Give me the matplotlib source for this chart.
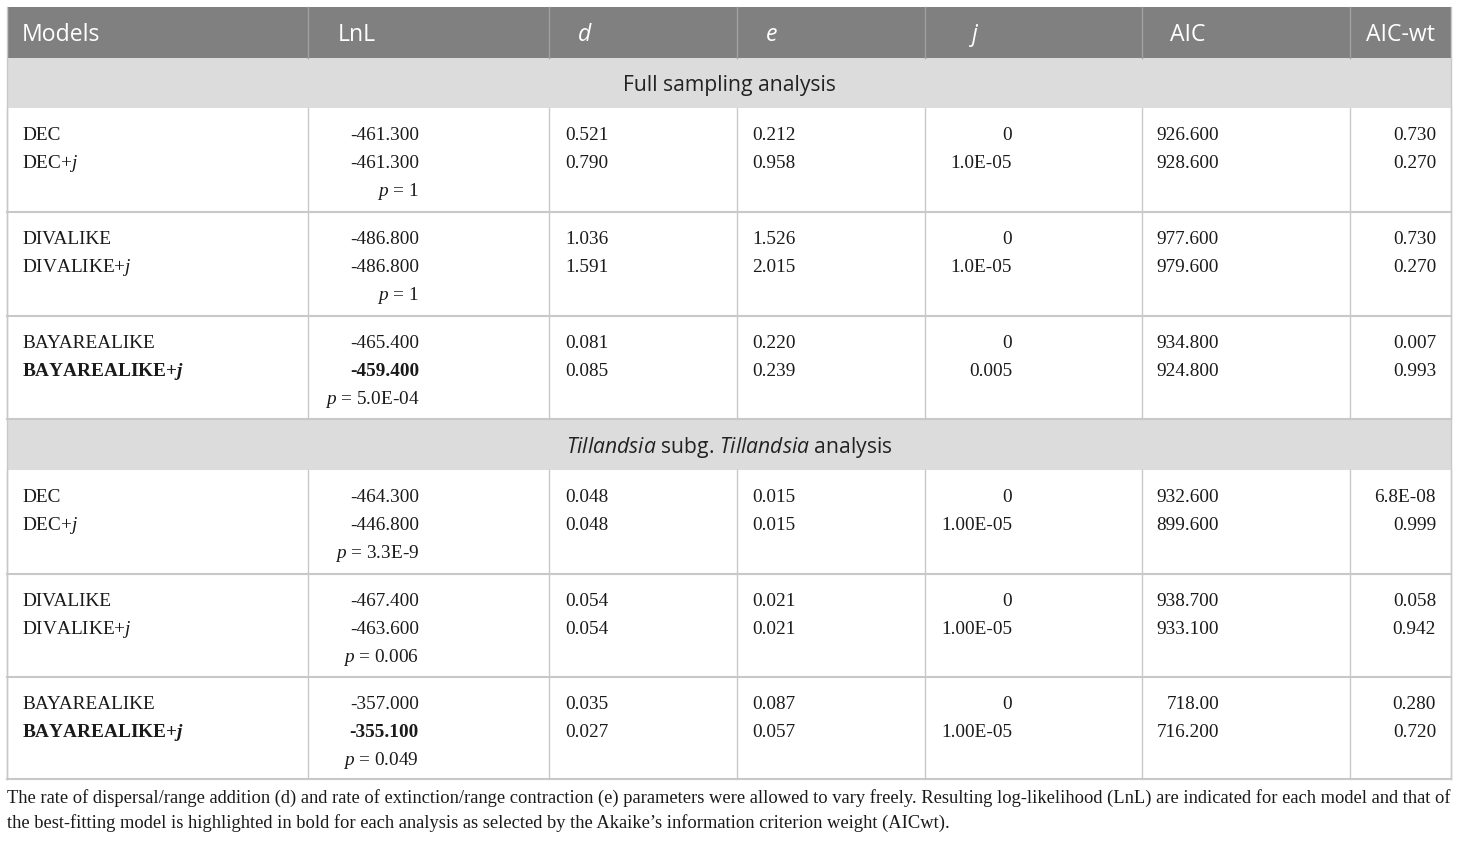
import matplotlib
matplotlib.use("Agg")
import matplotlib.pyplot as plt

plt.rcParams['mathtext.fontset'] = 'custom'
plt.rcParams['mathtext.rm'] = 'Liberation Serif'
plt.rcParams['mathtext.it'] = 'Liberation Serif:italic'
plt.rcParams['mathtext.bf'] = 'Liberation Serif:bold'
plt.rcParams['mathtext.bfit'] = 'Liberation Serif:bold:italic'
plt.rcParams['mathtext.sf'] = 'Open Sans:italic'

# table content
headers = ["Models", "LnL", "d", "e", "j", "AIC", "AIC-wt"]
sections = ["Full sampling analysis",
            r"$\mathsf{Tillandsia}$ subg. $\mathsf{Tillandsia}$ analysis"]

models = [["DEC", r"DEC+$\mathit{j}$"],
          ["DIVALIKE", r"DIVALIKE+$\mathit{j}$"],
          ["BAYAREALIKE", r"BAYAREALIKE+$\mathbfit{j}$"],
          ["DEC", r"DEC+$\mathit{j}$"],
          ["DIVALIKE", r"DIVALIKE+$\mathit{j}$"],
          ["BAYAREALIKE", r"BAYAREALIKE+$\mathbfit{j}$"]]
best = [False, False, True, False, False, True]
lnl = [["-461.300", "-461.300"], ["-486.800", "-486.800"], ["-465.400", "-459.400"],
       ["-464.300", "-446.800"], ["-467.400", "-463.600"], ["-357.000", "-355.100"]]
pvals = ["1", "1", "5.0E-04", "3.3E-9", "0.006", "0.049"]
d_vals = [["0.521", "0.790"], ["1.036", "1.591"], ["0.081", "0.085"],
          ["0.048", "0.048"], ["0.054", "0.054"], ["0.035", "0.027"]]
e_vals = [["0.212", "0.958"], ["1.526", "2.015"], ["0.220", "0.239"],
          ["0.015", "0.015"], ["0.021", "0.021"], ["0.087", "0.057"]]
j_vals = [["0", "1.0E-05"], ["0", "1.0E-05"], ["0", "0.005"],
          ["0", "1.00E-05"], ["0", "1.00E-05"], ["0", "1.00E-05"]]
aic = [["926.600", "928.600"], ["977.600", "979.600"], ["934.800", "924.800"],
       ["932.600", "899.600"], ["938.700", "933.100"], ["718.00", "716.200"]]
aic_wt = [["0.730", "0.270"], ["0.730", "0.270"], ["0.007", "0.993"],
          ["6.8E-08", "0.999"], ["0.058", "0.942"], ["0.280", "0.720"]]

footnote = ["The rate of dispersal/range addition (d) and rate of extinction/range contraction (e) parameters were allowed to vary freely. Resulting log-likelihood (LnL) are indicated for each model and that of",
            "the best-fitting model is highlighted in bold for each analysis as selected by the Akaike\u2019s information criterion weight (AICwt)."]

# layout in pixels
W, H = 1460, 841
cols = [7, 308, 549, 737, 925, 1142, 1350, 1451]
head_top, head_bot = 7, 58
sec_rows = [(58, 108), (419, 470)]
groups = [(108, 212), (212, 316), (316, 419), (470, 574), (574, 677), (677, 779)]

fig = plt.figure(figsize=(W / 100, H / 100), dpi=100)
ax = fig.add_axes([0, 0, 1, 1])
ax.set_xlim(0, W)
ax.set_ylim(H, 0)
ax.axis('off')

line_c = '#c8c8c8'
serif = 'Liberation Serif'
sans = 'Open Sans'
fs = 13.9

# header
ax.fill_between([cols[0], cols[-1]], head_top, head_bot, color='#808080', lw=0)
for x in cols[1:-1]:
    ax.plot([x, x], [head_top, head_bot], color='#a0a0a0', lw=1)
head_x = [22, 338, 578, 766, 972, 1170, 1366]
for i, h in enumerate(headers):
    ax.text(head_x[i], 34.5, h, color='white', fontsize=16.6, family=sans,
            style='italic' if h in ('d', 'e', 'j') else 'normal', va='center', ha='left')

# section rows
for (t, b), s in zip(sec_rows, sections):
    ax.fill_between([cols[0], cols[-1]], t, b, color='#dcdcdc', lw=0)
    ax.text((cols[0] + cols[-1]) / 2, (t + b) / 2 + 2.5, s, fontsize=15.2, family=sans,
            color='#222222', ha='center', va='center')

# data groups
for g, (t, b) in enumerate(groups):
    for x in cols:
        ax.plot([x, x], [t, b], color=line_c, lw=1)
    ax.plot([cols[0], cols[-1]], [b, b], color=line_c, lw=1.5)
    for k in range(2):
        y = t + 32 + 28 * k
        wt = 'bold' if (best[g] and k == 1) else 'normal'
        kw = dict(fontsize=fs, family=serif, color='#1a1a1a', va='baseline')
        ax.text(22, y, models[g][k], weight=wt, ha='left', **kw)
        ax.text(419, y, lnl[g][k], weight=wt, ha='right', **kw)
        ax.text(565, y, d_vals[g][k], ha='left', **kw)
        ax.text(752, y, e_vals[g][k], ha='left', **kw)
        ax.text(1012, y, j_vals[g][k], ha='right', **kw)
        ax.text(1219, y, aic[g][k], ha='right', **kw)
        ax.text(1436, y, aic_wt[g][k], ha='right', **kw)
    ax.text(419, t + 88, r"$\mathit{p}$ = " + pvals[g], fontsize=fs, family=serif,
            color='#1a1a1a', ha='right', va='baseline')

for x in (cols[0], cols[-1]):
    ax.plot([x, x], [head_top, groups[-1][1]], color=line_c, lw=1)

# footnote
for i, s in enumerate(footnote):
    ax.text(7, 803 + 25 * i, s, fontsize=13.3, family=serif, color='#1a1a1a',
            ha='left', va='baseline')

fig.savefig("out.png", dpi=100)
